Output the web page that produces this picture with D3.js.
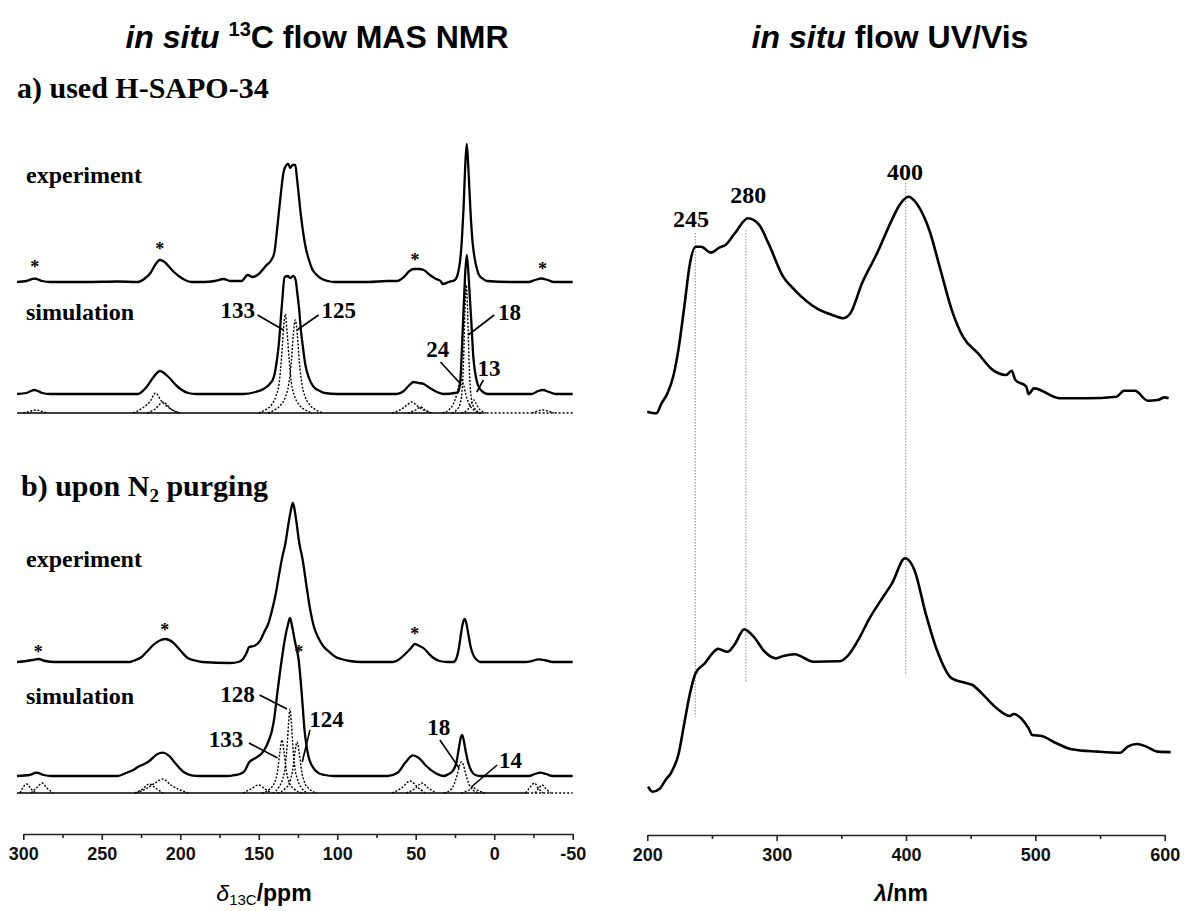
<!DOCTYPE html>
<html>
<head>
<meta charset="utf-8">
<script src="https://cdn.jsdelivr.net/npm/d3@7"></script>
<style>
  html, body { margin: 0; padding: 0; background: #fff; }
  svg { display: block; }
</style>
</head>
<body>
<div id="chart"></div>
<script>
// ---- NMR data: [ppm, intensity above the trace's own baseline] ----
const nmrExpA = [[304,0],[298,1],[292.8,3.3],[288,1],[283,0],[260,0],[240,0.5],[227,0],[223,3],[219,9],[216,17],[213,22],[210,20],[207,15],[204,10],[201,6],[197,2],[193,0],[185,0],[178,1],[172.4,3],[168,1],[161,1],[157,7],[154,5],[150,8],[145,17],[142,22],[140,30],[138.5,50],[136.3,83],[134.2,110],[132.4,117],[131.2,118],[130,114],[128.5,117],[126.7,117],[125.6,103],[123.1,66],[120.3,36],[118,22],[116,13],[113,7],[110.8,4],[106,1],[102,0],[80,0],[68,1],[62,1],[57.6,5],[54,11],[51.3,13],[48,13],[44.9,12],[41,7],[37,3],[34.2,1],[32.8,-2],[29,0],[25,2],[22,18],[20.5,45],[19.5,75],[18.5,115],[17.5,138],[16.5,115],[15.1,70],[13.8,40],[12.6,25],[11,13],[9.7,7],[7,3],[4.8,1],[-10,0],[-22,0],[-26,2],[-30,3.5],[-34,2],[-38,0],[-50,0]];

const nmrSimA = [[304,0],[298,1],[293,4],[288,1],[283,0],[250,0],[227,0],[222,6],[217,17],[213,23],[207.5,17],[201.5,7],[195,1],[190,0],[160,0],[152,2],[147,5],[143,10],[140.4,17],[138.8,30],[137.4,47],[135.2,90],[133.5,117],[131.5,118],[130,116],[128,118],[126.5,114],[125.6,103],[124.3,85],[123.1,63],[121.7,45],[120.4,30],[118,16],[115,7],[111,3],[108,1],[100,0],[62,0],[57.6,3],[54,9],[51.3,12],[48,11],[44.9,10],[41,6],[36.4,2],[32,0],[25,1],[23,2],[21.5,15],[20.6,44],[19.5,85],[18.6,117],[17.5,139],[16.6,125],[15.8,104],[14.5,70],[13.3,37],[12,20],[10.8,11],[9,5],[7.2,2],[4,0],[-24,0],[-28,3],[-31,4],[-35,2],[-39,0],[-50,0]];

const nmrExpB = [[304,0],[298,1],[294,2],[290.5,3],[286,1],[280,0],[262,0],[240,0],[232,0],[229.4,1.5],[224.6,5],[220.9,11],[217.2,17],[212.4,22],[209.4,23],[205,20],[200.2,12],[195.3,4],[190.4,1.5],[186,0],[168,-1],[163,0],[159.9,3.3],[157.5,10],[156.2,15],[153,16],[148.9,22],[146.5,30],[144,38],[141.5,52],[139.2,68],[137,88],[135,105],[133.1,118],[131.5,134],[130,148],[128.8,157],[128.3,159],[127.5,155],[126,140],[124.3,120],[122,102],[119.5,75],[117.2,52],[115,36],[112.3,25],[109,16],[105,10],[101,5],[97.6,3],[92,1],[85,0],[65,0],[61.5,1.7],[56.7,8],[53,14],[50.6,18],[47.5,16],[44.4,13],[41.5,8],[39.5,5],[34.7,1],[30,0],[26,0],[24,4],[22.5,14],[21,30],[19.8,40],[18.8,43],[17.8,39],[16.5,28],[15,15],[13,6],[11,2],[9,0],[-20,0],[-24,1],[-28.2,2.7],[-33,1.5],[-37,0],[-50,0]];

const nmrSimB = [[304,0],[296,1],[291.6,3.3],[287,1],[282,0],[240,0],[234.2,3.3],[230,6],[227,9],[223.3,11.7],[219.7,15],[214.8,21.7],[211.2,23.3],[207.5,20.7],[202.6,11.7],[197.8,4],[192.9,0.7],[188,0],[170,0],[165,1],[162,2],[159,5],[156,14],[152,18],[148.5,22],[146.5,26],[143.5,36],[141.5,46],[140.4,55],[138,85],[135.5,115],[133,140],[131.3,152],[130.1,158],[128.8,150],[127,135],[124.5,115],[122.5,80],[120.9,47],[118.4,20],[116,10],[112,3],[108,1],[102,0],[68,0],[61.6,3.3],[56.7,13.3],[51.8,20.7],[48.2,18.3],[43.3,10],[37.2,2.7],[32,0],[29,2],[26,6],[24,14],[22.5,28],[21.2,39],[20.5,41],[19.6,37],[18.2,25],[16.5,13],[14.5,5],[12,1],[9,0],[-22,0],[-26,2],[-29.3,3.3],[-33,2],[-37,0],[-50,0]];

// deconvoluted components (dotted)
const compsA = [
  [[150,0],[146,3],[142,8],[139,17],[137,30],[135.5,55],[134.3,82],[133.1,99],[132,82],[130.7,55],[129.2,30],[127.2,17],[124.2,8],[120.3,3],[116,0]],
  [[144,0],[140,3],[136,8],[133,16],[131,28],[129.2,52],[128,78],[126.7,93],[125.4,78],[124.2,52],[122.4,28],[120.4,16],[117.4,8],[113.4,3],[109,0]],
  [[27,0],[24,3],[22,8],[20.5,22],[19.5,55],[18.7,100],[17.8,128],[16.9,100],[16.1,55],[15.1,22],[13.6,8],[11.6,3],[8.6,0]],
  [[33,0],[29,3],[26,9],[24,18],[22.5,28],[21,33],[19.5,28],[18,18],[16,9],[13,3],[9,0]],
  [[21,0],[18,2],[16,5],[14.3,10],[13,13],[11.7,10],[10,5],[8,2],[5,0]],
  [[230,0],[224,5],[219,12],[215.8,20],[212,12],[207,5],[201,0]],
  [[221,0],[216,4],[211,11],[206,4],[200,0]],
  [[65,0],[59,4],[55.5,8],[52.5,11],[49,7],[45,3],[40,0]],
  [[55,0],[50,3],[47,6],[44,3],[40,0]],
  [[300,0],[295,2],[292,3],[289,2],[285,0]],
  [[-24,0],[-28,2],[-31,3],[-34,2],[-38,0]]
];
const compsB = [
  [[141,0],[137.5,5],[135,13],[133,28],[131.8,50],[130.9,72],[130.1,84],[129.3,72],[128.4,50],[127.2,28],[125.2,13],[122.7,5],[119,0]],
  [[148,0],[143,4],[140,10],[138,22],[136.6,40],[135.2,53],[133.8,40],[132.4,22],[130.4,10],[127.4,4],[122,0]],
  [[138,0],[133.5,4],[130.5,10],[128.5,22],[127,40],[125.6,51],[124.2,40],[122.7,22],[120.7,10],[117.7,4],[113,0]],
  [[32,0],[28,3],[25.5,9],[23.3,20],[22,28],[20.8,31],[19.6,28],[18.3,20],[16.1,9],[13.6,3],[9.6,0]],
  [[21,0],[17.5,2],[15,4],[13.5,6],[12,4],[9.5,2],[6,0]],
  [[228,0],[221,5],[216,10],[211.2,14],[206,8],[200,3],[195,0]],
  [[229,0],[224,4],[219.7,9],[215,4],[211,0]],
  [[65,0],[59,5],[53.5,12],[49,6],[44,0]],
  [[56,0],[50,5],[46.2,10],[42,5],[37,0]],
  [[302,0],[300,6],[297.8,9],[295,4],[292,0]],
  [[295,0],[291,6],[288,10],[285,5],[281,0]],
  [[-20,0],[-23,6],[-25.7,10],[-28,5],[-31,0]],
  [[-26,0],[-28.5,5],[-30.6,8],[-33,4],[-36,0]],
  [[160,0],[155,4],[150,8],[146,4],[142,0]]
];
const compSolidEnd = [7.4, -21];   // ppm where the component baseline turns dotted (a, b)

// asterisks (spinning side bands) [ppm, height above experiment baseline]
const starsA = [[292.7,17],[213,35],[50.4,24],[-30.7,15]];
const starsB = [[290.4,12],[209.9,34],[50.6,30],[124.5,12]];

// peak assignments: label, ppm, height (on simulation scale), leader from/to
const labelsA = [
  {t:'133', p:163.4, h:76, l:[[150.8,79],[134.2,64]]},
  {t:'125', p:99.1,  h:76, l:[[111.9,79],[125.6,64]]},
  {t:'18',  p:-9.8,  h:74, l:[[0,79],[16.6,59]]},
  {t:'24',  p:35.9,  h:37, l:[[34.2,32],[20.8,9]]},
  {t:'13',  p:3.4,   h:18, l:[[6.9,14],[11.1,2]]}
];
const labelsB = [
  {t:'128', p:163.6, h:74, l:[[149.5,81],[132,67]]},
  {t:'133', p:170.9, h:29, l:[[156.3,33],[138,18]]},
  {t:'124', p:106.9, h:49, l:[[117.4,46],[122.3,14]]},
  {t:'18',  p:35.4,  h:41, l:[[34.6,36],[22.4,8]]},
  {t:'14',  p:-10.4, h:8,  l:[[-1.9,11],[14.6,-11]]}
];

// ---- UV/Vis data: [lambda nm, absorbance a.u.] ----
const uvTop = [[200,0.015],[207,0.008],[211,0.053],[215.6,0.099],[220,0.174],[224,0.295],[228.6,0.492],[233,0.690],[237.3,0.765],[241.6,0.765],[249,0.738],[256,0.762],[260.5,0.773],[267.7,0.826],[277.8,0.894],[286.5,0.864],[293.7,0.780],[305,0.629],[314,0.568],[331,0.485],[343,0.455],[351.6,0.440],[357,0.462],[366,0.599],[377.6,0.735],[389,0.886],[395,0.955],[402,0.992],[409,0.955],[418,0.841],[426.7,0.659],[435.4,0.477],[444,0.356],[455.7,0.280],[467,0.205],[477.4,0.182],[481.7,0.201],[484.6,0.159],[493,0.129],[494.7,0.095],[499,0.121],[519,0.076],[539.5,0.076],[562.7,0.083],[568.5,0.110],[577,0.110],[587,0.065],[594.5,0.068],[600,0.080],[603,0.076]];
const uvBottom = [[200.6,0.038],[204,0.015],[209.8,0.030],[214.1,0.068],[218.5,0.102],[224.3,0.190],[228.6,0.326],[233,0.462],[237.3,0.553],[244.5,0.599],[250.3,0.644],[254.7,0.664],[261.9,0.651],[267.7,0.686],[274.9,0.753],[282.2,0.720],[290.8,0.651],[299.5,0.621],[305.2,0.632],[313.9,0.640],[328.4,0.606],[348.6,0.608],[354.4,0.629],[363.1,0.705],[371.8,0.803],[383.3,0.909],[389.2,0.962],[399.3,1.076],[406.5,1.023],[415.2,0.826],[423.9,0.659],[435.4,0.530],[445.6,0.510],[451.4,0.500],[458.6,0.462],[470.1,0.394],[480.3,0.359],[483.1,0.368],[494.8,0.303],[497.6,0.273],[504.8,0.268],[516.4,0.235],[528,0.208],[548.2,0.197],[565.6,0.192],[571.4,0.220],[578.6,0.232],[585.9,0.220],[594.5,0.197],[604.6,0.195]];

// guide lines: label, label lambda, guide lambda, label abs (top), line top (top scale), line bottom (bottom scale)
const uvPeaks = [
  {t:'245', lx:233.8, g:237.1, la:0.856, a0:0.827, a1:0.356},
  {t:'280', lx:278,   g:276.2, la:0.964, a0:0.841, a1:0.509},
  {t:'400', lx:399.2, g:399.8, la:1.068, a0:1.055, a1:0.545}
];

const ppmMajor = [300,250,200,150,100,50,0,-50];
const ppmMinor = [275,225,175,125,75,25,-25];
const nmMajor = [200,300,400,500,600];
const nmMinor = [250,350,450,550];

// ---- drawing ----
const W = 1186, H = 911;
const serif = '"Liberation Serif", "Times New Roman", serif';
const sans = '"Liberation Sans", Arial, sans-serif';

const svg = d3.select('#chart').append('svg')
  .attr('width', W).attr('height', H)
  .style('background', '#fff');

const xN = d3.scaleLinear().domain([300, -50]).range([23.3, 572.7]);
const xU = d3.scaleLinear().domain([200, 600]).range([647.3, 1164.7]);

// one px per intensity unit, each trace on its own baseline
const yAt = base => d3.scaleLinear().domain([0, 100]).range([base, base - 100]);
const yExpA = yAt(282), ySimA = yAt(394), yCompA = yAt(413);
const yExpB = yAt(662), ySimB = yAt(776), yCompB = yAt(793);
const yUvTop = d3.scaleLinear().domain([0, 1]).range([415, 195]);
const yUvBot = d3.scaleLinear().domain([0, 1]).range([795, 575]);

function trace(data, x, y, width, dash) {
  const line = d3.line()
    .x(d => x(d[0]))
    .y(d => y(d[1]))
    .curve(d3.curveMonotoneX);
  svg.append('path')
    .datum(data)
    .attr('fill', 'none')
    .attr('stroke', '#000')
    .attr('stroke-width', width)
    .attr('stroke-linejoin', 'round')
    .attr('stroke-dasharray', dash || null)
    .attr('d', line);
}

// titles
const t1 = svg.append('text')
  .attr('x', 317).attr('y', 48)
  .attr('text-anchor', 'middle')
  .style('font-family', sans).style('font-weight', 'bold').style('font-size', '32px');
t1.append('tspan').style('font-style', 'italic').text('in situ ');
t1.append('tspan').attr('dy', -12).style('font-size', '20px').text('13');
t1.append('tspan').attr('dy', 12).text('C flow MAS NMR');

const t2 = svg.append('text')
  .attr('x', 890).attr('y', 48)
  .attr('text-anchor', 'middle')
  .style('font-family', sans).style('font-weight', 'bold').style('font-size', '32px');
t2.append('tspan').style('font-style', 'italic').text('in situ');
t2.append('tspan').text(' flow UV/Vis');

// section labels
svg.append('text')
  .attr('x', 17).attr('y', 98)
  .style('font-family', serif).style('font-weight', 'bold').style('font-size', '30px')
  .text('a) used H-SAPO-34');

const tb = svg.append('text')
  .attr('x', 21).attr('y', 496)
  .style('font-family', serif).style('font-weight', 'bold').style('font-size', '30px');
tb.append('tspan').text('b) upon N');
tb.append('tspan').attr('dy', 6).style('font-size', '19px').text('2');
tb.append('tspan').attr('dy', -6).text(' purging');

[['experiment', 183], ['simulation', 320], ['experiment', 567], ['simulation', 704]].forEach(d => {
  svg.append('text')
    .attr('x', 26).attr('y', d[1])
    .style('font-family', serif).style('font-weight', 'bold').style('font-size', '24px')
    .text(d[0]);
});

// NMR components + baselines
function compPanel(comps, y, solidEnd) {
  trace([[304, 0], [solidEnd, 0]], xN, y, 1.6);
  trace([[solidEnd, 0], [-50, 0]], xN, y, 1.6, '2,2');
  comps.forEach(c => trace(c, xN, y, 1.4, '2,1.6'));
}
compPanel(compsA, yCompA, compSolidEnd[0]);
compPanel(compsB, yCompB, compSolidEnd[1]);

// NMR spectra
trace(nmrExpA, xN, yExpA, 2.3);
trace(nmrSimA, xN, ySimA, 2.3);
trace(nmrExpB, xN, yExpB, 2.3);
trace(nmrSimB, xN, ySimB, 2.3);

// asterisks
function stars(list, y) {
  svg.selectAll(null).data(list).enter().append('text')
    .attr('x', d => xN(d[0]))
    .attr('y', d => y(d[1]))
    .attr('dy', '0.47em')
    .attr('text-anchor', 'middle')
    .style('font-family', serif).style('font-weight', 'bold').style('font-size', '18px')
    .text('*');
}
stars(starsA, yExpA);
stars(starsB, yExpB);

// peak labels with leader lines
function peakLabels(list, y) {
  list.forEach(d => {
    svg.append('text')
      .attr('x', xN(d.p)).attr('y', y(d.h))
      .attr('text-anchor', 'middle')
      .style('font-family', serif).style('font-weight', 'bold').style('font-size', '23px')
      .text(d.t);
    svg.append('line')
      .attr('x1', xN(d.l[0][0])).attr('y1', y(d.l[0][1]))
      .attr('x2', xN(d.l[1][0])).attr('y2', y(d.l[1][1]))
      .attr('stroke', '#000').attr('stroke-width', 1.6);
  });
}
peakLabels(labelsA, ySimA);
peakLabels(labelsB, ySimB);

// UV guide lines
uvPeaks.forEach(d => {
  svg.append('line')
    .attr('x1', xU(d.g)).attr('x2', xU(d.g))
    .attr('y1', yUvTop(d.a0)).attr('y2', yUvBot(d.a1))
    .attr('stroke', '#8a8a8a').attr('stroke-width', 1)
    .attr('stroke-dasharray', '1.5,1.5');
  svg.append('text')
    .attr('x', xU(d.lx)).attr('y', yUvTop(d.la))
    .attr('text-anchor', 'middle')
    .style('font-family', serif).style('font-weight', 'bold').style('font-size', '24px')
    .text(d.t);
});

// UV spectra
trace(uvTop, xU, yUvTop, 2.6);
trace(uvBottom, xU, yUvBot, 2.6);

// axes
function axis(x, major, minor, yPos) {
  const gMin = svg.append('g').attr('transform', `translate(0,${yPos})`)
    .call(d3.axisBottom(x).tickValues(minor).tickSize(4).tickSizeOuter(0).tickFormat(''));
  gMin.select('.domain').remove();
  const g = svg.append('g').attr('transform', `translate(0,${yPos})`)
    .call(d3.axisBottom(x).tickValues(major).tickSize(6).tickSizeOuter(0).tickPadding(7).tickFormat(d => String(d)));
  [gMin, g].forEach(a => a.selectAll('line, path').attr('stroke', '#222').attr('stroke-width', 1.6));
  g.selectAll('text')
    .attr('fill', '#111')
    .style('font-family', sans).style('font-weight', 'bold').style('font-size', '18px');
}
axis(xN, ppmMajor, ppmMinor, 834);
axis(xU, nmMajor, nmMinor, 835);

// axis titles
const ax1 = svg.append('text')
  .attr('x', 264).attr('y', 901)
  .attr('text-anchor', 'middle')
  .style('font-family', sans).style('font-weight', 'bold').style('font-size', '23px');
ax1.append('tspan').style('font-style', 'italic').style('font-weight', 'normal').text('δ');
ax1.append('tspan').attr('dy', 4).style('font-size', '15px').style('font-weight', 'normal').text('13C');
ax1.append('tspan').attr('dy', -4).text('/ppm');

const ax2 = svg.append('text')
  .attr('x', 901).attr('y', 901)
  .attr('text-anchor', 'middle')
  .style('font-family', sans).style('font-weight', 'bold').style('font-size', '23px');
ax2.append('tspan').style('font-style', 'italic').text('λ');
ax2.append('tspan').text('/nm');
</script>
</body>
</html>
